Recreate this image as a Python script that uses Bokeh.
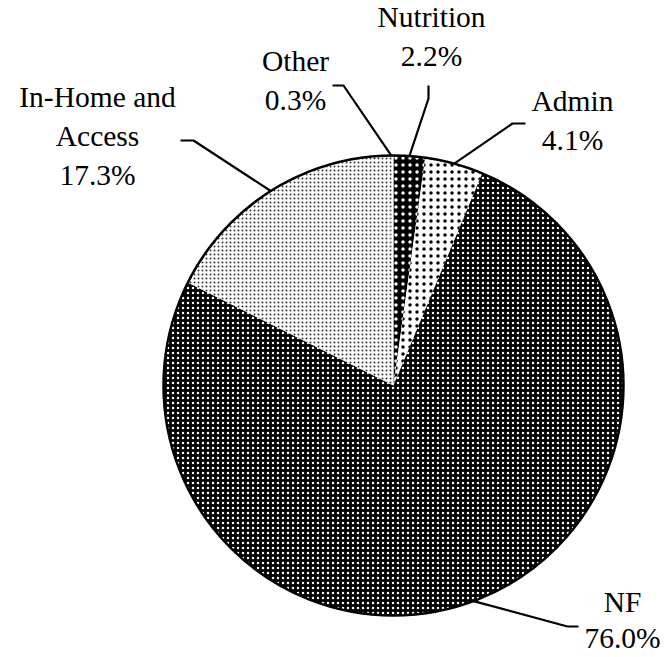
import math
from bokeh.plotting import figure
from bokeh.models import Range1d
from bokeh.core.properties import value
from bokeh.embed import file_html
from bokeh.resources import INLINE

# ---- data ----
categories = ["Nutrition", "Admin", "NF", "In-Home and Access", "Other"]
label_lines = [["Nutrition"], ["Admin"], ["NF"], ["In-Home and", "Access"], ["Other"]]
shares = [2.2, 4.1, 76.0, 17.3, 0.3]
pct_labels = ["2.2%", "4.1%", "76.0%", "17.3%", "0.3%"]

# ---- styles / layout ----
fills = ["black", "white", "black", "white", "white"]
hatch_colors = ["white", "black", "white", "#333333", "#333333"]
hatch_scales = [7, 7, 5, 4, 4]
# label block: centre x, first baseline y (page px), line step
label_pos = [(431, 28, 39), (572, 112, 39), (622, 613, 36), (97, 108, 39), (295, 72, 39)]
# leader: outer end, elbow (page px); inner end on the pie rim
leader_pts = [((428, 85), (428, 98)), ((525, 123), (512, 123)),
              ((578, 626), (567, 626)), ((180, 140), (193, 140)),
              ((332, 85), (343, 85))]
TEXT_DY = -11.5
FONT = value("Liberation Serif")
FSIZE = "29.5px"

W, H = 664, 657
CX, CY, R = 393, 385, 230

p = figure(width=W, height=H, x_range=Range1d(0, W), y_range=Range1d(-H, 0),
           output_backend="svg", toolbar_location=None, min_border=0,
           x_axis_location=None, y_axis_location=None,
           styles={"margin": "0px"})
p.grid.visible = False
p.outline_line_color = None
p.background_fill_color = "white"
p.border_fill_color = "white"

total = sum(shares)
cum = 0.0
for i, s in enumerate(shares):
    a0 = cum / total
    a1 = (cum + s) / total
    cum += s
    start = math.pi / 2 - 2 * math.pi * a1
    end = math.pi / 2 - 2 * math.pi * a0
    p.wedge(x=[CX], y=[-CY], radius=R, start_angle=[start], end_angle=[end],
            fill_color=fills[i], line_color=None,
            hatch_pattern="dot", hatch_color=hatch_colors[i],
            hatch_scale=hatch_scales[i])
    mid = 2 * math.pi * (a0 + a1) / 2
    ex = CX + R * math.sin(mid)
    ey = CY - R * math.cos(mid)
    (ox, oy), (bx, by) = leader_pts[i]
    p.line(x=[ox, bx, ex], y=[-oy, -by, -ey], line_color="black", line_width=2.2)
    lines = label_lines[i] + [pct_labels[i]]
    lx, ly, step = label_pos[i]
    p.text(x=[lx] * len(lines),
           y=[-(ly + TEXT_DY + k * step) for k in range(len(lines))],
           text=lines, text_font=FONT, text_font_size=FSIZE,
           text_align="center", text_baseline="alphabetic", text_color="black")

p.circle(x=[CX], y=[-CY], radius=R, fill_color=None, line_color="black", line_width=2.5)

open("out.html", "w").write(file_html(p, INLINE))
